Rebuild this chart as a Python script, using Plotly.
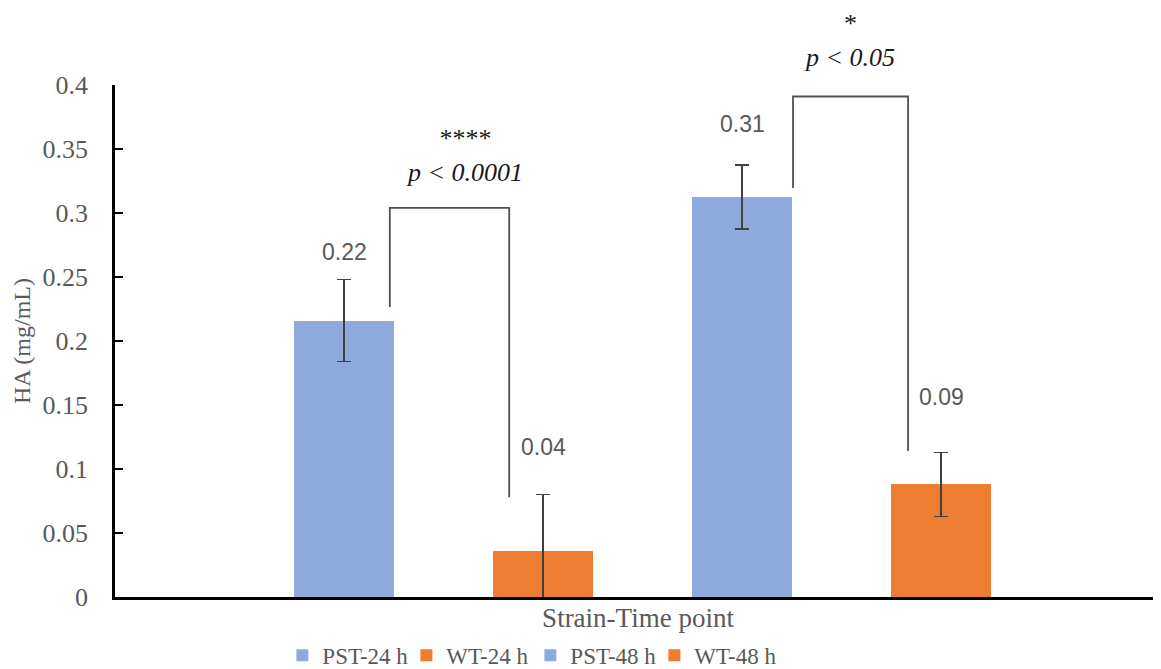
import plotly.graph_objects as go

# ---- data ----
series = ["PST-24 h", "WT-24 h", "PST-48 h", "WT-48 h"]
values = [0.216, 0.036, 0.3125, 0.088]
errors = [0.032, 0.044, 0.025, 0.025]
labels = ["0.22", "0.04", "0.31", "0.09"]
colors = ["#8FAADC", "#ED7D31", "#8FAADC", "#ED7D31"]
y_ticks = [0, 0.05, 0.1, 0.15, 0.2, 0.25, 0.3, 0.35, 0.4]
y_tick_text = ["0", "0.05", "0.1", "0.15", "0.2", "0.25", "0.3", "0.35", "0.4"]
sig_texts = ["****<br><i>p &lt; 0.0001</i>", "*<br><i>p &lt; 0.05</i>"]

# layout helpers (positions, not data)
xpos = [1, 2, 3, 4]
label_y = [0.2695, 0.117, 0.3695, 0.156]
sig_pos = [(1.607, 0.345), (3.54, 0.435)]
Y_MAX = 0.4

SERIF = "Liberation Serif, Times New Roman, serif"
SANS = "Liberation Sans, Arial, sans-serif"
GRAY = "#595959"

fig = go.Figure()
for i, name in enumerate(series):
    fig.add_trace(go.Bar(
        x=[xpos[i]], y=[values[i]], name=name, width=0.5,
        marker=dict(color=colors[i], line=dict(width=0)),
        error_y=dict(type="data", array=[errors[i]], visible=True,
                     color="#404040", thickness=1.5, width=7),
    ))

# data labels
for i in range(4):
    fig.add_annotation(x=xpos[i], y=label_y[i], text=labels[i], showarrow=False,
                       font=dict(family=SANS, size=23, color=GRAY),
                       xref="x", yref="y", xanchor="center", yanchor="middle")

# significance brackets
brackets = [
    (1.23, 1.83, 0.2266, 0.078, 0.304),
    (3.256, 3.834, 0.3195, 0.114, 0.391),
]
for x0, x1, yl, yr, yt in brackets:
    fig.add_shape(type="path", xref="x", yref="y",
                  path=f"M {x0},{yl} L {x0},{yt} L {x1},{yt} L {x1},{yr}",
                  line=dict(color="#505050", width=1.8))

for (x, y), t in zip(sig_pos, sig_texts):
    fig.add_annotation(x=x, y=y / Y_MAX, text=t, showarrow=False, xref="x", yref="paper",
                       xanchor="center", yanchor="middle", align="center",
                       font=dict(family=SERIF, size=26, color="#1a1a1a"))

fig.update_layout(
    width=1153, height=661,
    margin=dict(l=107, r=0, t=77, b=72, autoexpand=False),
    paper_bgcolor="white", plot_bgcolor="white",
    showlegend=True,
    legend=dict(orientation="h", x=0.16, xanchor="left", y=-0.072, yanchor="top",
                font=dict(family=SERIF, size=23, color=GRAY),
                entrywidth=79, entrywidthmode="pixels",
                traceorder="normal"),
    bargap=0,
)
fig.update_xaxes(range=[-0.1508, 5.105], showticklabels=False, ticks="",
                 showgrid=False, zeroline=False, automargin=False,
                 showline=True, linecolor="black", linewidth=2.5,
                 title=dict(text="Strain-Time point", standoff=10,
                            font=dict(family=SERIF, size=27, color=GRAY)))
fig.update_yaxes(range=[0, Y_MAX], tickvals=y_ticks, ticktext=y_tick_text,
                 showgrid=False, zeroline=False, automargin=False,
                 showline=True, linecolor="black", linewidth=2.5,
                 ticks="inside", ticklen=8, tickwidth=2, tickcolor="black",
                 ticklabelstandoff=19,
                 tickfont=dict(family=SERIF, size=26, color=GRAY),
                 title=dict(text="HA (mg/mL)", standoff=6,
                            font=dict(family=SERIF, size=24, color=GRAY)))

fig.write_html("out.html")
